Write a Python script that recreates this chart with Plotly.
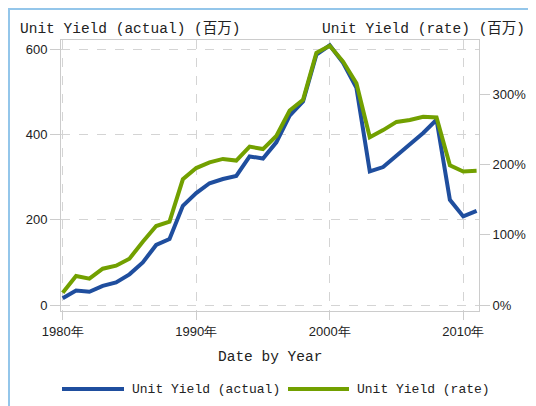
import plotly.graph_objects as go

years = list(range(1980, 2012))
actual = [16, 34, 31, 45, 53, 72, 100, 141, 155, 233, 263, 286, 296, 303, 349, 344, 382, 445,
          478, 588, 610, 569, 510, 314, 324, 351, 377, 404, 435, 247, 208, 221]
rate = [0.175, 0.413, 0.375, 0.517, 0.56, 0.66, 0.90, 1.125, 1.187, 1.79, 1.95, 2.03, 2.08, 2.056,
        2.255, 2.22, 2.407, 2.77, 2.92, 3.59, 3.69, 3.466, 3.158, 2.389, 2.49, 2.607, 2.635, 2.68,
        2.67, 1.99, 1.90, 1.91]
names = ["Unit Yield (actual)", "Unit Yield (rate)"]
colors = ["#1F4E9E", "#72A000"]
xticks = [1980, 1990, 2000, 2010]
xticklabels = [f"{y}年" for y in xticks]
left_title = "Unit Yield (actual) (百万)"
right_title = "Unit Yield (rate) (百万)"
x_title = "Date by Year"

OFF = 8  # page body margin
W, H = 536 - OFF, 406 - OFF
L, R, T, B = 61 - OFF, 479 - OFF, 40 - OFF, 311 - OFF
pw, ph = R - L, B - T

def px(x):
    return (x - OFF - L) / pw

def py(y):
    return (B - (y - OFF)) / ph

mono = "Liberation Mono, Noto Sans CJK SC, monospace"
sans = "Liberation Sans, Arial, sans-serif"

fig = go.Figure()
fig.add_trace(go.Scatter(x=years, y=actual, mode="lines", name=names[0],
                         line=dict(color=colors[0], width=4), yaxis="y"))
fig.add_trace(go.Scatter(x=years, y=rate, mode="lines", name=names[1],
                         line=dict(color=colors[1], width=4), yaxis="y2"))

grid = "#d4d4d4"
border = "#cccccc"
fig.update_layout(
    width=W, height=H,
    margin=dict(l=L, r=W - R, t=T, b=H - B, autoexpand=False),
    paper_bgcolor="white", plot_bgcolor="white",
    showlegend=False,
    xaxis=dict(range=[1979.873, 2011.18], tickvals=xticks, ticktext=xticklabels,
               showgrid=True, gridcolor=grid, griddash="dash",
               showline=True, linecolor=border, mirror=True,
               ticks="outside", ticklen=8, tickcolor=border,
               tickfont=dict(family=sans, size=13, color="#222"), zeroline=False),
    yaxis=dict(range=[-14.1, 622.4], tickvals=[0, 200, 400, 600],
               showgrid=True, gridcolor=grid, griddash="dash",
               showline=True, linecolor=border, mirror=True,
               ticks="outside", ticklen=10, tickcolor=border,
               tickfont=dict(family=sans, size=13, color="#222"), zeroline=False),
    yaxis2=dict(range=[-0.0854, 3.773], tickvals=[0, 1, 2, 3], tickformat=".0%",
                overlaying="y", side="right", showgrid=False, zeroline=False,
                ticks="outside", ticklen=10, tickcolor=border,
                tickfont=dict(family=sans, size=13, color="#222")),
)

ann = [
    dict(text=left_title, x=px(18), y=py(29), xanchor="left", yanchor="middle",
         font=dict(family=mono, size=14.5, color="#222")),
    dict(text=right_title, x=px(527), y=py(29), xanchor="right", yanchor="middle",
         font=dict(family=mono, size=14.5, color="#222")),
    dict(text=x_title, x=0.5, y=py(357), xanchor="center", yanchor="middle",
         font=dict(family=mono, size=14.5, color="#222")),
]
leg = [(62, 124, 130), (288, 349, 355)]
shapes = []
for (x0, x1, tx), name, c in zip(leg, names, colors):
    shapes.append(dict(type="line", xref="paper", yref="paper", x0=px(x0), x1=px(x1),
                       y0=py(389), y1=py(389), line=dict(color=c, width=4)))
    ann.append(dict(text=name, x=px(tx), y=py(389), xanchor="left", yanchor="middle",
                    font=dict(family=mono, size=13, color="#222")))
# window frame
shapes.append(dict(type="line", xref="paper", yref="paper", x0=px(8), x1=px(540),
                   y0=py(9), y1=py(9), line=dict(color="#94c6ea", width=2)))
shapes.append(dict(type="line", xref="paper", yref="paper", x0=px(9), x1=px(9),
                   y0=py(8), y1=py(410), line=dict(color="#94c6ea", width=2)))
for a in ann:
    a.update(xref="paper", yref="paper", showarrow=False)
fig.update_layout(annotations=ann, shapes=shapes)

fig.write_html("out.html")
